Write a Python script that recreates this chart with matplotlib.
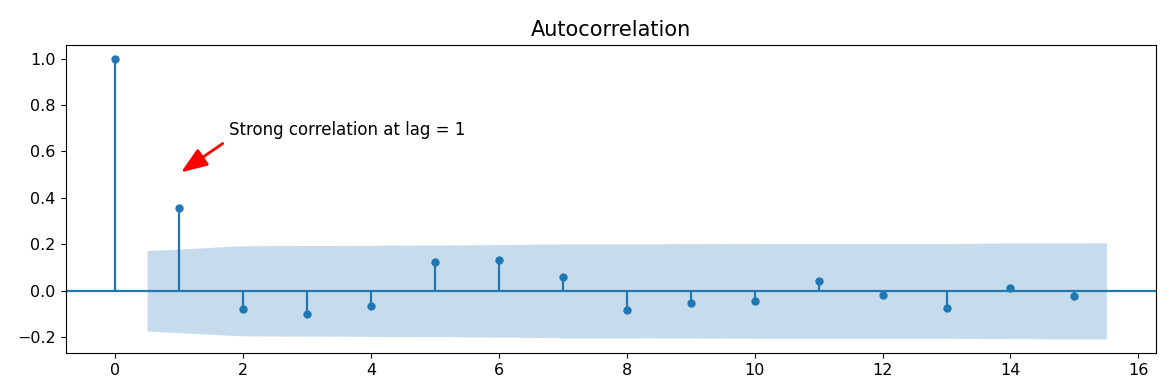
import matplotlib
matplotlib.use("Agg")
import matplotlib.pyplot as plt
import numpy as np

lags = [0, 1, 2, 3, 4, 5, 6, 7, 8, 9, 10, 11, 12, 13, 14, 15]
acf_values = [1.0, 0.358, -0.077, -0.100, -0.065, 0.125, 0.131, 0.059,
              -0.082, -0.053, -0.042, 0.043, -0.017, -0.076, 0.012, -0.024]
band_x = [0.5, 2, 3, 4, 5, 6, 7, 8, 9, 10, 11, 12, 13, 14, 15.5]
band_half = [0.173, 0.194, 0.195, 0.196, 0.197, 0.199, 0.202, 0.202,
             0.203, 0.204, 0.204, 0.204, 0.204, 0.206, 0.207]
title = "Autocorrelation"
note = "Strong correlation at lag = 1"

fig, ax = plt.subplots(figsize=(11.7, 3.87), dpi=100)
fig.subplots_adjust(left=0.056, right=0.988, top=0.885, bottom=0.088)

ax.vlines(lags, 0, acf_values, color="C0", lw=1.6)
ax.plot(lags, acf_values, "o", color="C0", markersize=5)
ax.axhline(0, color="C0", lw=1.6)
bh = np.array(band_half)
ax.fill_between(band_x, -bh, bh, alpha=0.25, color="C0", lw=0)
ax.margins(0.05)
ax.set_title(title, fontsize=15)
ax.tick_params(labelsize=11.5)

ax.annotate(note, xy=(1.03, 0.51), xytext=(1.78, 0.67), fontsize=12,
            arrowprops=dict(arrowstyle="-|>,head_length=0.8,head_width=0.3",
                            color="red", lw=2, mutation_scale=20,
                            relpos=(0, 0), shrinkA=3, shrinkB=0))

fig.savefig("out.png", dpi=100)
